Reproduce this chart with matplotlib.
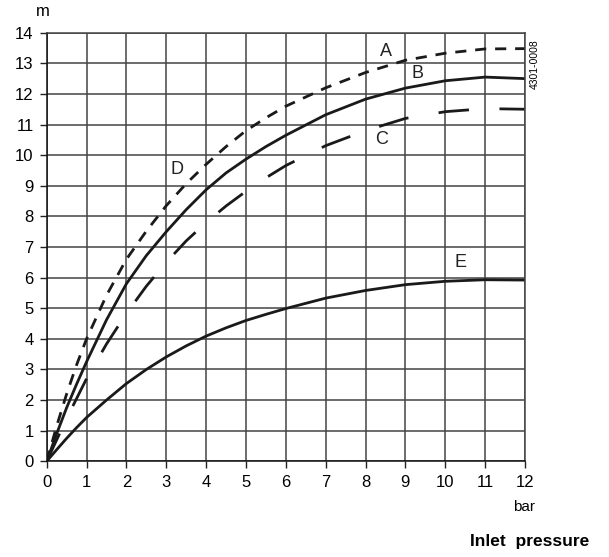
import numpy as np
import matplotlib.pyplot as plt

plt.rcParams['font.family'] = ['Liberation Sans', 'DejaVu Sans']

# pressure (bar) and head (m)
x_vals = [0, 0.25, 0.5, 0.75, 1, 1.5, 2, 2.5, 3, 3.5, 4, 4.5, 5, 5.5, 6, 7, 8, 9, 10, 11, 12]
A_vals = [0, 1.15, 2.2, 3.15, 4.0, 5.42, 6.6, 7.52, 8.35, 9.07, 9.7, 10.28, 10.8, 11.22, 11.6,
          12.2, 12.7, 13.1, 13.33, 13.47, 13.48]
B_vals = [0, 0.9, 1.75, 2.52, 3.25, 4.62, 5.8, 6.72, 7.5, 8.22, 8.87, 9.42, 9.87, 10.28, 10.65,
          11.32, 11.83, 12.19, 12.43, 12.55, 12.5]
C_vals = [0, 0.7, 1.4, 2.05, 2.7, 3.83, 4.83, 5.72, 6.5, 7.2, 7.8, 8.34, 8.82, 9.26, 9.66,
          10.31, 10.8, 11.2, 11.42, 11.52, 11.5]
E_vals = [0, 0.38, 0.75, 1.1, 1.43, 2.0, 2.54, 3.0, 3.41, 3.77, 4.09, 4.36, 4.6, 4.8, 4.99,
          5.33, 5.58, 5.77, 5.88, 5.93, 5.92]

curve_labels = ['A', 'B', 'C', 'D', 'E']
label_x = [8.52, 9.3, 8.39, 3.28, 10.39]
label_y = [13.38, 12.68, 10.5, 9.54, 6.49]

W, H = 609, 557
fig = plt.figure(figsize=(W / 100, H / 100), dpi=100)
ax = fig.add_axes([46.7 / W, 1 - 461.3 / H, (525 - 46.7) / W, (461.3 - 32.7) / H])

line_col = '#1a1a1a'
ax.plot(x_vals, A_vals, color=line_col, lw=2, dashes=(4, 3.2))
ax.plot(x_vals, B_vals, color=line_col, lw=2)
ax.plot(x_vals, C_vals, color=line_col, lw=2, dashes=(11, 11))
ax.plot(x_vals, E_vals, color=line_col, lw=2)

for lab, lx, ly in zip(curve_labels, label_x, label_y):
    ax.text(lx, ly, lab, fontsize=13, ha='center', va='center', color='#222222')

ax.set_xlim(0, 12)
ax.set_ylim(0, 14)
ax.set_xticks(np.arange(0, 13, 1))
ax.set_yticks(np.arange(0, 15, 1))
ax.grid(True, color='#444444', lw=1.1)
ax.set_axisbelow(True)
ax.tick_params(axis='both', length=5, width=1, labelsize=12, color='#222222')
ax.tick_params(axis='x', pad=5)
ax.tick_params(axis='y', pad=4.5)
for side in ['top', 'right']:
    ax.spines[side].set_color('#444444')
    ax.spines[side].set_linewidth(1.1)
for side in ['left', 'bottom']:
    ax.spines[side].set_color('#111111')
    ax.spines[side].set_linewidth(1.1)

fig.text(43.3 / W, 1 - 11.7 / H, 'm', fontsize=12, ha='center', va='center')
fig.text(523.6 / W, 1 - 506.7 / H, 'bar', fontsize=11, ha='center', va='center')
fig.text(529.5 / W, 1 - 541.7 / H, 'Inlet  pressure', fontsize=12.5, fontweight='bold',
         ha='center', va='center')
fig.text(535 / W, 1 - 64 / H, '4301-0008', fontsize=7.5, rotation=90,
         ha='center', va='center')

fig.savefig('out.png', dpi=100)
